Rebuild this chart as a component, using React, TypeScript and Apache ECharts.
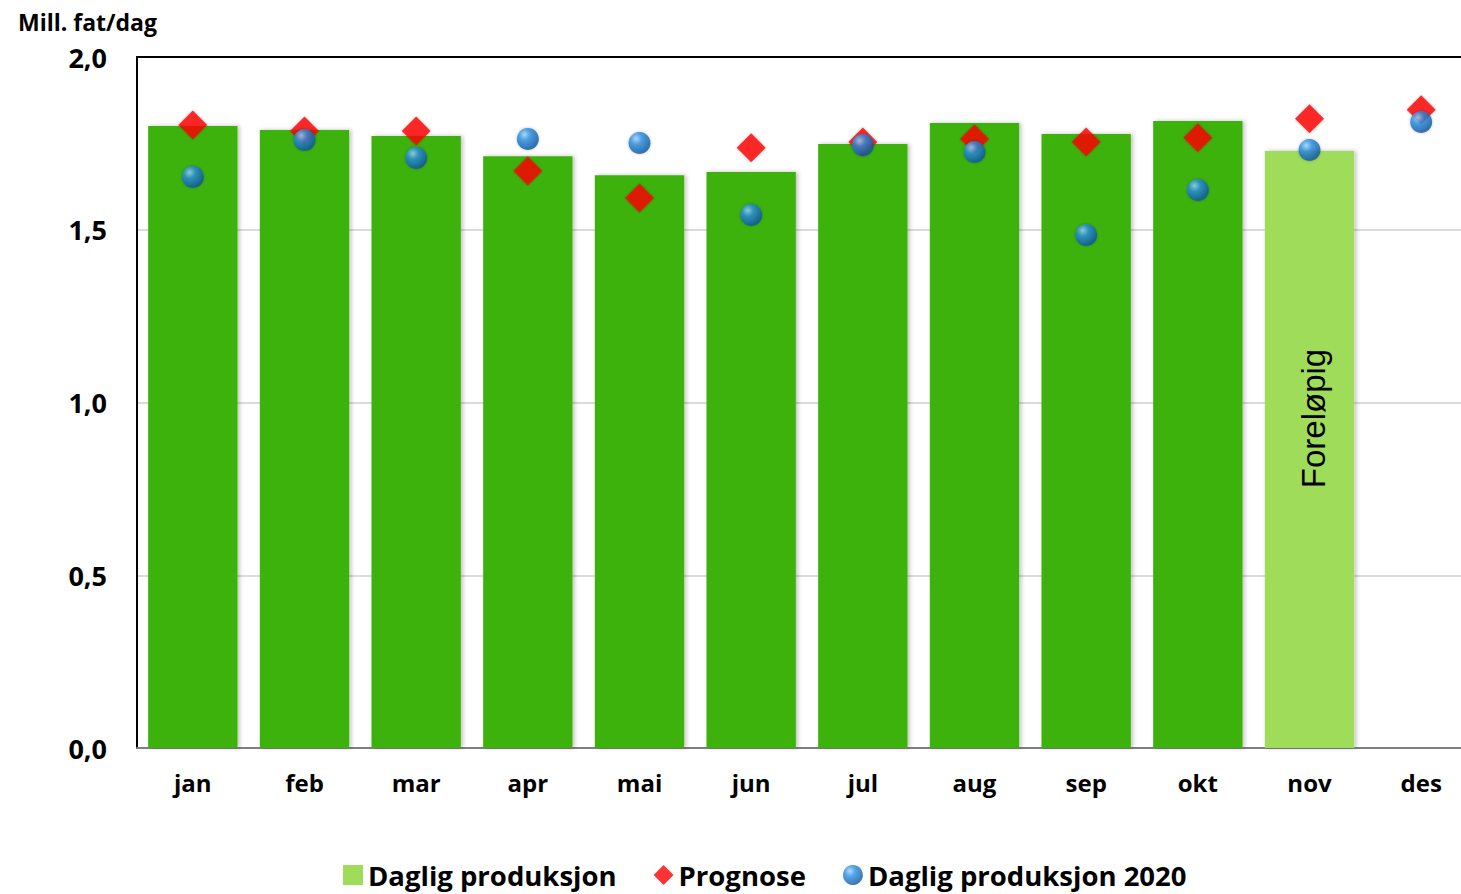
import React, { useEffect, useRef } from "react";
import * as echarts from "echarts";

const months = ["jan", "feb", "mar", "apr", "mai", "jun", "jul", "aug", "sep", "okt", "nov", "des"];
const dailyProduction = [1.8, 1.789, 1.771, 1.713, 1.658, 1.667, 1.748, 1.809, 1.777, 1.815, 1.728, null];
const forecast = [1.803, 1.786, 1.786, 1.67, 1.592, 1.737, 1.754, 1.763, 1.754, 1.766, 1.821, 1.847];
const daily2020 = [1.653, 1.76, 1.708, 1.763, 1.751, 1.543, 1.745, 1.725, 1.485, 1.615, 1.731, 1.812];
const yTicks = ["0,0", "0,5", "1,0", "1,5", "2,0"];
const preliminaryMonth = "nov";
const preliminaryLabel = "Foreløpig";

const FONT = "Open Sans";
const DARK_GREEN = "#3db20b";
const LIGHT_GREEN = "#9edc5a";

export default function App() {
  const ref = useRef<HTMLDivElement>(null);
  useEffect(() => {
    if (!ref.current) return;
    const chart = echarts.init(ref.current, undefined, { renderer: "svg" });
    const blue = new echarts.graphic.RadialGradient(0.35, 0.3, 0.75, [
      { offset: 0, color: "#9fd3ff" },
      { offset: 0.35, color: "#2b8fe0" },
      { offset: 1, color: "#0a4f9a" },
    ]);
    chart.setOption({
      animation: false,
      textStyle: { fontFamily: FONT },
      title: {
        text: "Mill. fat/dag",
        left: 13,
        top: 5,
        textStyle: { fontFamily: FONT, fontWeight: "bold", fontSize: 23, color: "#000" },
      },
      grid: { left: 137, right: 0, top: 57, bottom: 146 },
      legend: {
        left: 338,
        top: 856,
        itemGap: 37,
        itemWidth: 20,
        itemHeight: 20,
        textStyle: { fontFamily: FONT, fontWeight: "bold", fontSize: 27.5, color: "#000" },
        data: [
          { name: "Daglig produksjon", icon: "rect" },
          { name: "Prognose", icon: "diamond" },
          { name: "Daglig produksjon 2020", icon: "circle" },
        ],
      },
      xAxis: [
        {
          type: "category",
          data: months,
          axisLine: { lineStyle: { color: "#7f7f7f", width: 2 } },
          axisTick: { show: false },
          axisLabel: { fontFamily: FONT, fontWeight: "bold", fontSize: 24, color: "#000", margin: 22 },
        },
        {
          type: "category",
          data: months,
          position: "top",
          axisLine: { lineStyle: { color: "#000", width: 2 } },
          axisTick: { show: false },
          axisLabel: { show: false },
        },
      ],
      yAxis: {
        type: "value",
        min: 0,
        max: 2,
        interval: 0.5,
        axisLine: { show: true, lineStyle: { color: "#000", width: 2 } },
        axisTick: { show: false },
        splitLine: { lineStyle: { color: "#cfcfcf", width: 1.5 } },
        axisLabel: {
          fontFamily: FONT,
          fontWeight: "bold",
          fontSize: 27,
          color: "#000",
          margin: 30,
          formatter: (v: number) => yTicks[Math.round(v / 0.5)],
        },
      },
      series: [
        {
          name: "Daglig produksjon",
          type: "bar",
          barCategoryGap: "20%",
          itemStyle: {
            color: LIGHT_GREEN,
            shadowColor: "rgba(0,0,0,0.25)",
            shadowBlur: 4,
            shadowOffsetX: 2,
          },
          data: dailyProduction.map((v, i) =>
            months[i] === preliminaryMonth
              ? {
                  value: v,
                  label: {
                    show: true,
                    position: "inside",
                    rotate: 90,
                    offset: [31, 4],
                    formatter: preliminaryLabel,
                    fontFamily: "Liberation Sans",
                    fontSize: 33,
                    color: "#000",
                  },
                }
              : { value: v, itemStyle: { color: DARK_GREEN } }
          ),
        },
        {
          name: "Prognose",
          type: "scatter",
          symbol: "diamond",
          symbolSize: [29, 29],
          itemStyle: { color: "#ff0000", shadowColor: "rgba(0,0,0,0.3)", shadowBlur: 3 },
          data: forecast,
          z: 3,
        },
        {
          name: "Daglig produksjon 2020",
          type: "scatter",
          symbol: "circle",
          symbolSize: 22,
          itemStyle: { color: blue, shadowColor: "rgba(0,0,0,0.3)", shadowBlur: 3 },
          data: daily2020,
          z: 4,
        },
      ],
    });
    return () => chart.dispose();
  }, []);
  return (
    <div style={{ position: "absolute", left: 0, top: 0, width: 1461, height: 894, overflow: "hidden", background: "#fff" }}>
      <div ref={ref} style={{ position: "absolute", left: 0, top: 0, width: 1477, height: 894 }} />
    </div>
  );
}
